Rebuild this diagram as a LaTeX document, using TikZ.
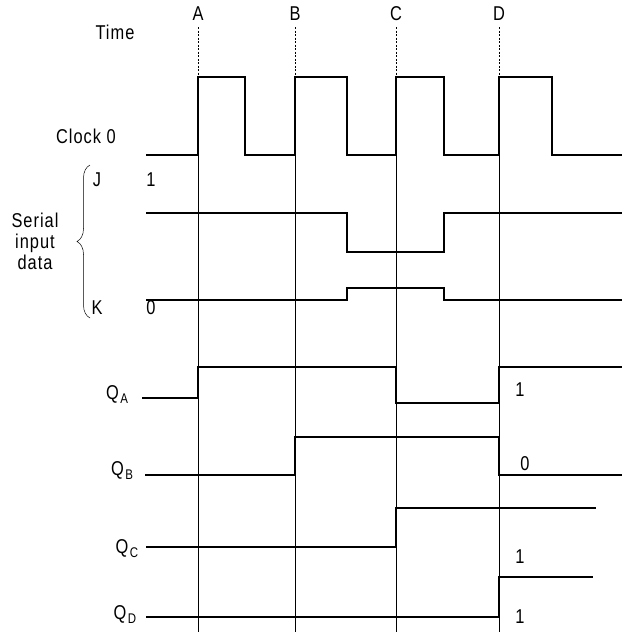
\documentclass[tikz,border=0pt]{standalone}
\usepackage{fontspec}
\setmainfont{Liberation Sans}[FakeStretch=0.82,LetterSpace=5]
\usetikzlibrary{decorations.pathreplacing}
\newcommand{\qsub}[1]{Q\kern1.5pt\raisebox{-4pt}{\fontsize{14}{14}\selectfont #1}}
\begin{document}
\begin{tikzpicture}[x=1pt,y=-1pt,
    signal/.style={line width=1.6pt, line join=miter},
    gridline/.style={line width=0.6pt},
    lbl/.style={inner sep=0pt, font=\fontsize{20}{21}\selectfont}]
    \useasboundingbox (0,0) rectangle (622,632);

    \def\clkhi{77}
    \def\clklo{155}

    % Time markers
    \foreach \t/\x in {A/198,B/295,C/396,D/499} {
        \node[lbl] (lbl\t) at (\x,14) {\t};
        \coordinate (top\t) at (\x,27);
        \coordinate (edge\t) at (\x,\clkhi);
        \coordinate (bot\t) at (\x,632);
        \draw[gridline, dash pattern=on 2pt off 1.5pt] (top\t) -- (edge\t);
        \draw[gridline] (edge\t) -- (bot\t);
    }

    % Labels
    \node[lbl] (time) at (115,32) {Time};
    \node[lbl] (clock) at (86,136) {Clock 0};
    \node[lbl] (jlbl) at (97,180) {J};
    \node[lbl] (jval) at (151,180) {1};
    \node[lbl] (klbl) at (97,308) {K};
    \node[lbl] (kval) at (151,308) {0};
    \node[lbl, align=center] (serial) at (35,241) {Serial\\input\\data};
    \draw[line width=0.5pt, decorate, decoration={brace, amplitude=13pt}] (90,318) -- (90,165);

    % Clock
    \draw[signal] (146,\clklo) -- (198,\clklo) -- (198,\clkhi) -- (245,\clkhi) -- (245,\clklo)
        -- (295,\clklo) -- (295,\clkhi) -- (347,\clkhi) -- (347,\clklo)
        -- (396,\clklo) -- (396,\clkhi) -- (444,\clkhi) -- (444,\clklo)
        -- (499,\clklo) -- (499,\clkhi) -- (552,\clkhi) -- (552,\clklo) -- (622,\clklo);

    % Serial input J and K
    \draw[signal] (146,213) -- (347,213) -- (347,252) -- (444,252) -- (444,213) -- (622,213);
    \draw[signal] (146,300) -- (347,300) -- (347,288) -- (444,288) -- (444,300) -- (622,300);

    % Outputs
    \node[lbl] (qa) at (117,395) {\qsub{A}};
    \draw[signal] (142,398) -- (198,398) -- (198,367) -- (396,367) -- (396,403) -- (499,403) -- (499,367) -- (622,367);
    \node[lbl] (qaval) at (520,390) {1};

    \node[lbl] (qb) at (122,471) {\qsub{B}};
    \draw[signal] (145,475) -- (295,475) -- (295,437) -- (499,437) -- (499,475) -- (622,475);
    \node[lbl] (qbval) at (525,464) {0};

    \node[lbl] (qc) at (127,549) {\qsub{C}};
    \draw[signal] (146,547) -- (396,547) -- (396,508) -- (596,508);

    \node[lbl] (qd) at (125,615) {\qsub{D}};
    \draw[signal] (146,617) -- (499,617) -- (499,577) -- (593,577);
    \node[lbl] (qdhi) at (520,557) {1};
    \node[lbl] (qdlo) at (520,617) {1};

\end{tikzpicture}
\end{document}
